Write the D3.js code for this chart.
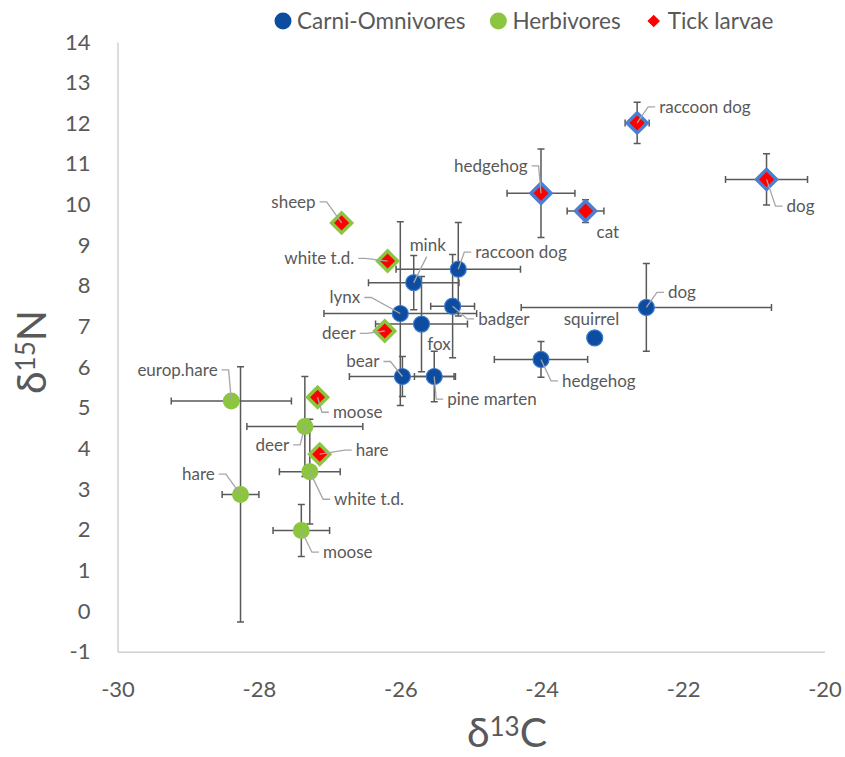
<!DOCTYPE html>
<html>
<head>
<meta charset="utf-8">
<script src="https://cdn.jsdelivr.net/npm/d3@7"></script>
<style>
  body { margin: 0; background: #fff; }
  text { font-family: Lato, "Open Sans", sans-serif; }
</style>
</head>
<body>
<div id="chart"></div>
<script>
// carnivores / omnivores (host tissue)
const carniNames = ["lynx", "mink", "fox", "raccoon dog", "badger", "bear", "pine marten", "hedgehog", "squirrel", "dog"];
const carniC = [-26.00, -25.81, -25.70, -25.18, -25.26, -25.97, -25.52, -24.01, -23.25, -22.52];
const carniN = [7.32, 8.08, 7.06, 8.41, 7.50, 5.77, 5.77, 6.19, 6.72, 7.47];
const carniCErr = [1.08, 0.64, 0.65, 0.88, 0.31, 0.75, 0.28, 0.66, 0, 1.77];
const carniNErr = [2.26, 0.67, 1.17, 1.15, 1.27, 0.49, 0.62, 0.44, 0, 1.08];

// herbivores
const herbNames = ["europ.hare", "hare", "deer", "white t.d.", "moose"];
const herbC = [-28.39, -28.26, -27.35, -27.28, -27.40];
const herbN = [5.17, 2.87, 4.54, 3.43, 1.98];
const herbCErr = [0.85, 0.26, 0.82, 0.43, 0.40];
const herbNErr = [0, 3.14, 1.23, 1.29, 0.64];

// tick larvae, by host
const tickNames = ["raccoon dog", "hedgehog", "cat", "dog", "sheep", "white t.d.", "deer", "moose", "hare"];
const tickHost = ["carni", "carni", "carni", "carni", "herb", "herb", "herb", "herb", "herb"];
const tickC = [-22.65, -24.01, -23.38, -20.82, -26.83, -26.18, -26.22, -27.17, -27.14];
const tickN = [12.01, 10.28, 9.84, 10.62, 9.55, 8.61, 6.89, 5.26, 3.86];
const tickCErr = [0.17, 0.48, 0.26, 0.58, 0, 0, 0, 0, 0];
const tickNErr = [0.51, 1.09, 0.28, 0.63, 0, 0, 0, 0, 0];

const xTicks = [-30, -28, -26, -24, -22, -20];
const yTicks = d3.range(-1, 15);
const legendLabels = ["Carni-Omnivores", "Herbivores", "Tick larvae"];

// label placement (px offset from the point, text anchor, leader line)
const carniLabelPos = [[-40, -16, "end", true], [14, -38, "middle", true], [17.5, 19.5, "middle", false],
    [17, -17, "start", true], [25.6, 12.7, "start", true], [-23, -15, "end", true], [13, 22.6, "start", true],
    [21, 21.4, "start", true], [-3.3, -18.4, "middle", false], [21.6, -15, "start", true]];
const herbLabelPos = [[-13.7, -31, "end", true], [-25.7, -20.3, "end", true], [-15.7, 18.3, "end", true],
    [24.3, 27.6, "start", true], [21.6, 21.6, "start", true]];
const tickLabelPos = [[22, -16, "start", true], [-13.4, -27.3, "end", true], [11, 20.7, "start", false],
    [20, 26.7, "start", true], [-26, -21, "end", true], [-33.3, -2.7, "end", true], [-29, 2.3, "end", true],
    [15.3, 15, "start", true], [36, -4, "start", true]];

let w = 845;
let h = 757;
let margin = {top: 42, right: 20.5, bottom: 105.3, left: 117.5};

const blue = "#0d4c9f", blueEdge = "#3a78cc", green = "#8cc540", red = "#ff0000";
const grey = "#595959";

let svg = d3.select("#chart")
    .append("svg")
    .attr("width", w)
    .attr("height", h);

let x = d3.scaleLinear().domain([-30, -20]).range([margin.left, w - margin.right]);
let y = d3.scaleLinear().domain([-1, 14]).range([h - margin.bottom, margin.top]);

// axes (plain hyphen minus like the original)
let xAxis = svg.append("g")
    .attr("transform", `translate(0,${h - margin.bottom})`)
    .call(d3.axisBottom(x).tickValues(xTicks).tickSize(0).tickPadding(30).tickFormat(d => String(d)));
let yAxis = svg.append("g")
    .attr("transform", `translate(${margin.left},0)`)
    .call(d3.axisLeft(y).tickValues(yTicks).tickSize(0).tickPadding(27).tickFormat(d => String(d)));
[xAxis, yAxis].forEach(a => {
    a.select(".domain").attr("stroke", "#d0d0d0").attr("stroke-width", 1.5);
    a.selectAll("text").attr("fill", grey).style("font-size", "22px").attr("font-family", null);
});

// axis titles
let xt = svg.append("text")
    .attr("x", 507)
    .attr("y", 733)
    .attr("dy", "0.35em")
    .attr("text-anchor", "middle")
    .attr("fill", grey)
    .style("font-size", "41px");
xt.append("tspan").text("δ");
xt.append("tspan").attr("dy", "-0.45em").style("font-size", "26px").text("13");
xt.append("tspan").attr("dy", "0.28em").text("C");

let yt = svg.append("text")
    .attr("transform", "translate(32,352) rotate(-90)")
    .attr("dy", "0.35em")
    .attr("text-anchor", "middle")
    .attr("fill", grey)
    .style("font-size", "41px");
yt.append("tspan").text("δ");
yt.append("tspan").attr("dy", "-0.45em").style("font-size", "26px").text("15");
yt.append("tspan").attr("dy", "0.28em").text("N");

function rows(names, cs, ns, cErr, nErr, pos, extra) {
    return names.map((n, i) => ({
        name: n, c: cs[i], n: ns[i], ce: cErr[i], ne: nErr[i],
        dx: pos[i][0], dy: pos[i][1], anchor: pos[i][2], leader: pos[i][3],
        host: extra ? extra[i] : null
    }));
}
let carni = rows(carniNames, carniC, carniN, carniCErr, carniNErr, carniLabelPos);
let herb = rows(herbNames, herbC, herbN, herbCErr, herbNErr, herbLabelPos);
let ticks = rows(tickNames, tickC, tickN, tickCErr, tickNErr, tickLabelPos, tickHost);
let all = herb.concat(carni, ticks);

// error bars
let cap = 3.5;
let eb = svg.append("g").attr("stroke", grey).attr("stroke-width", 1.5).attr("fill", "none");
all.filter(d => d.ce > 0).forEach(d => {
    let x0 = x(d.c - d.ce), x1 = x(d.c + d.ce), yy = y(d.n);
    eb.append("path").attr("d", `M${x0},${yy}H${x1}M${x0},${yy - cap}V${yy + cap}M${x1},${yy - cap}V${yy + cap}`);
});
all.filter(d => d.ne > 0).forEach(d => {
    let y0 = y(d.n - d.ne), y1 = y(d.n + d.ne), xx = x(d.c);
    eb.append("path").attr("d", `M${xx},${y0}V${y1}M${xx - cap},${y0}H${xx + cap}M${xx - cap},${y1}H${xx + cap}`);
});

// markers
svg.append("g").selectAll("circle")
    .data(herb)
    .enter()
    .append("circle")
    .attr("cx", d => x(d.c))
    .attr("cy", d => y(d.n))
    .attr("r", 8.5)
    .attr("fill", green);

svg.append("g").selectAll("circle")
    .data(carni)
    .enter()
    .append("circle")
    .attr("cx", d => x(d.c))
    .attr("cy", d => y(d.n))
    .attr("r", 8)
    .attr("fill", blue)
    .attr("stroke", blueEdge)
    .attr("stroke-width", 1.2);

let diamond = d3.symbol().type(d3.symbolSquare).size(200);
svg.append("g").selectAll("path")
    .data(ticks)
    .enter()
    .append("path")
    .attr("d", diamond)
    .attr("transform", d => `translate(${x(d.c)},${y(d.n)}) rotate(45)`)
    .attr("fill", red)
    .attr("stroke", d => d.host == "carni" ? "#4a7fd4" : green)
    .attr("stroke-width", 3.5);

// leader lines and labels
let lab = svg.append("g");
all.forEach(d => {
    let px = x(d.c), py = y(d.n);
    let lx = px + d.dx, ly = py + d.dy;
    if (d.leader) {
        let pts;
        if (d.anchor == "end") pts = [[lx + 4, ly], [lx + 11, ly], [px, py]];
        else if (d.anchor == "start") pts = [[lx - 4, ly], [lx - 11, ly], [px, py]];
        else pts = [[lx - 1, ly + 12], [px, py]];
        lab.append("path")
            .attr("d", d3.line()(pts))
            .attr("fill", "none")
            .attr("stroke", "#a6a6a6")
            .attr("stroke-width", 1.3);
    }
    lab.append("text")
        .attr("x", lx)
        .attr("y", ly)
        .attr("dy", "0.35em")
        .attr("text-anchor", d.anchor)
        .attr("fill", grey)
        .style("font-size", "17px")
        .text(d.name);
});

// legend
let legend = svg.append("g").attr("transform", "translate(283,21)");
let lx = 0;
legendLabels.forEach((t, i) => {
    if (i < 2) {
        legend.append("circle").attr("cx", lx).attr("cy", 0).attr("r", 8.5)
            .attr("fill", i == 0 ? blue : green);
    } else {
        legend.append("path").attr("d", d3.symbol().type(d3.symbolSquare).size(80))
            .attr("transform", `translate(${lx},0) rotate(45)`).attr("fill", red);
    }
    let tx = legend.append("text")
        .attr("x", lx + 14)
        .attr("y", 0)
        .attr("dy", "0.35em")
        .attr("fill", grey)
        .style("font-size", "22.5px")
        .text(t);
    lx += 14 + tx.node().getComputedTextLength() + 33;
});
</script>
</body>
</html>
